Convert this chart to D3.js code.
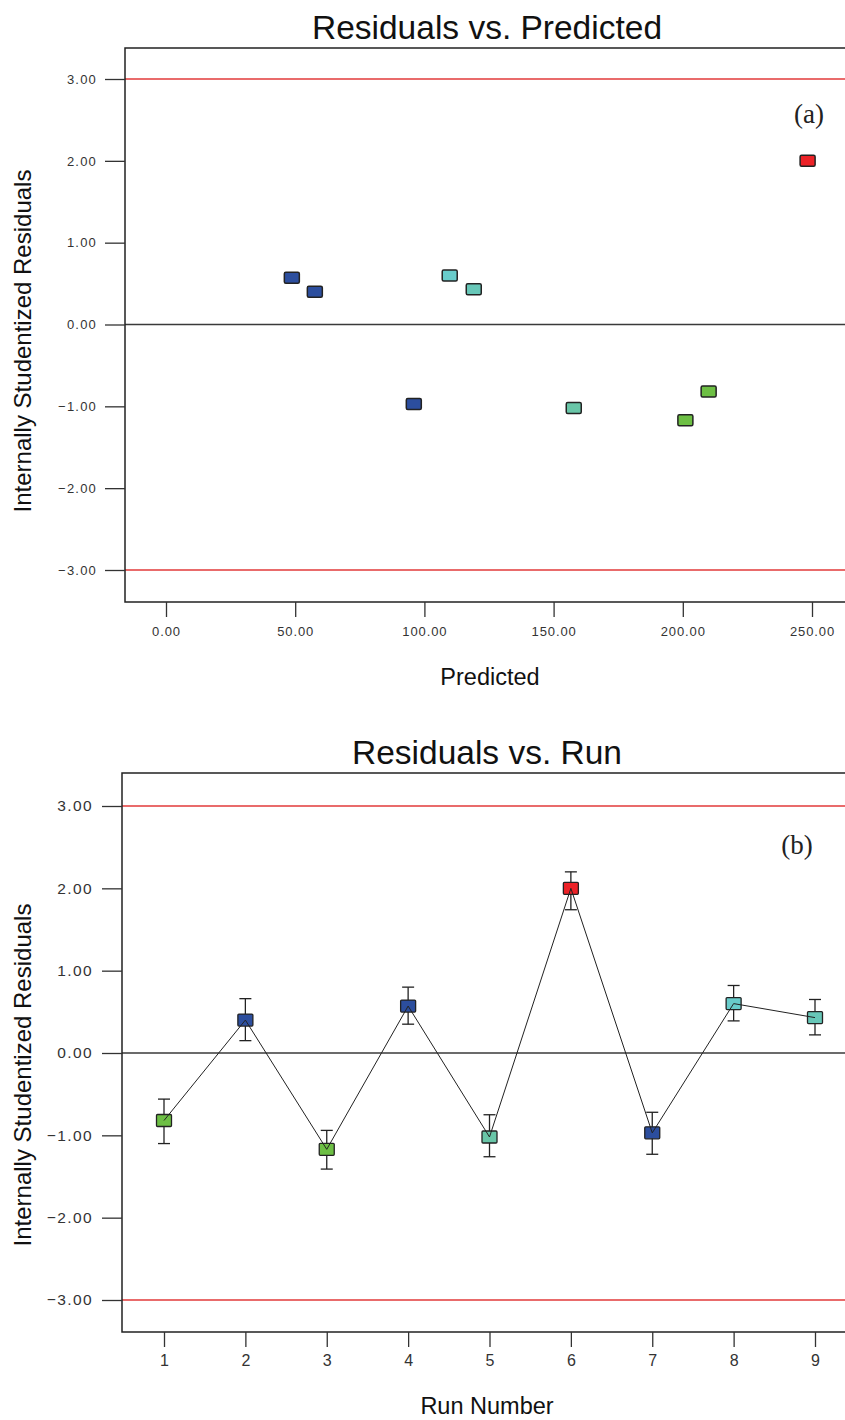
<!DOCTYPE html>
<html>
<head>
<meta charset="utf-8">
<script src="https://cdn.jsdelivr.net/npm/d3@7"></script>
<style>
  html, body { margin: 0; padding: 0; background: #fff; }
  svg { display: block; }
</style>
</head>
<body>
<svg id="chart" width="845" height="1420" font-family="'Liberation Sans', Arial, sans-serif"></svg>
<script>
// ---- data ----
const runs = [1, 2, 3, 4, 5, 6, 7, 8, 9];
const predicted = [210.0, 57.6, 201.0, 48.7, 157.8, 248.3, 95.9, 109.8, 119.1];
const residuals = [-0.82, 0.40, -1.17, 0.57, -1.02, 2.00, -0.97, 0.60, 0.43];
const errHigh = [-0.56, 0.66, -0.94, 0.80, -0.75, 2.20, -0.72, 0.82, 0.65];
const errLow = [-1.10, 0.15, -1.41, 0.35, -1.26, 1.74, -1.23, 0.39, 0.22];
const pointGroup = ["green", "blue", "green", "blue", "teal", "red", "blue", "cyan", "cyanTeal"];
const xTicksPredicted = [0, 50, 100, 150, 200, 250];
const yTicks = [-3, -2, -1, 0, 1, 2, 3];
const limitLines = [-3, 3];

const groupColor = {
  green: "#6dbf44", blue: "#2c4e9e", teal: "#69c6a8",
  red: "#ec2227", cyan: "#68cccb", cyanTeal: "#67c7b8"
};

const svg = d3.select("#chart");
const fmt2 = d3.format(".2f");
const SANS = "'Liberation Sans', Arial, sans-serif";

function drawPanel(cfg) {
  const g = svg.append("g");
  const { x, y, left, right, top, bottom } = cfg;

  // limit lines (red)
  g.selectAll(".limit").data(limitLines).join("line")
    .attr("x1", left).attr("x2", right)
    .attr("y1", d => y(d)).attr("y2", d => y(d))
    .attr("stroke", "#e23a3a").attr("stroke-width", 1.3);

  // zero line
  g.append("line")
    .attr("x1", left).attr("x2", right)
    .attr("y1", y(0)).attr("y2", y(0))
    .attr("stroke", "#3a3a3a").attr("stroke-width", 1.4);

  // frame
  g.append("path")
    .attr("d", `M${right},${top}H${left}V${bottom}H${right}`)
    .attr("fill", "none").attr("stroke", "#222").attr("stroke-width", 1.5);

  // y axis
  const ya = g.append("g").attr("transform", `translate(${left},0)`)
    .call(d3.axisLeft(y).tickValues(yTicks).tickSize(20).tickPadding(cfg.yPad).tickFormat(fmt2));
  ya.select(".domain").remove();
  ya.selectAll(".tick line").attr("stroke", "#333").attr("stroke-width", 1.3);
  ya.selectAll(".tick text").attr("font-size", cfg.yFont).attr("fill", "#333")
    .attr("letter-spacing", cfg.ySpacing)
    .attr("font-family", SANS);

  // x axis
  const xa = g.append("g").attr("transform", `translate(0,${bottom})`)
    .call(d3.axisBottom(x).tickValues(cfg.xTicks).tickSize(15).tickPadding(cfg.xPad).tickFormat(cfg.xFormat));
  xa.select(".domain").remove();
  xa.selectAll(".tick line").attr("stroke", "#333").attr("stroke-width", 1.3);
  xa.selectAll(".tick text").attr("font-size", cfg.xFont).attr("fill", "#333")
    .attr("letter-spacing", cfg.xSpacing)
    .attr("font-family", SANS);

  // title
  g.append("text").attr("x", cfg.titleX).attr("y", cfg.titleY)
    .attr("text-anchor", "middle").attr("font-size", 33.5).attr("fill", "#111")
    .attr("font-family", SANS)
    .text(cfg.title);

  // x label
  g.append("text").attr("x", cfg.xLabelX).attr("y", cfg.xLabelY)
    .attr("text-anchor", "middle").attr("font-size", 23.5).attr("fill", "#111")
    .attr("font-family", SANS)
    .text(cfg.xLabel);

  // y label
  g.append("text")
    .attr("transform", `translate(${cfg.yLabelX},${cfg.yLabelY}) rotate(-90)`)
    .attr("text-anchor", "middle").attr("font-size", 24).attr("fill", "#111")
    .attr("font-family", SANS)
    .text("Internally Studentized Residuals");

  // panel tag
  g.append("text").attr("x", cfg.tagX).attr("y", cfg.tagY)
    .attr("text-anchor", "middle").attr("font-size", 27).attr("fill", "#222")
    .style("font-family", "'Liberation Serif', 'Times New Roman', serif")
    .text(cfg.tag);

  return g;
}

// ---- Panel (a): Residuals vs. Predicted ----
const xA = d3.scaleLinear().domain([0, 250]).range([166, 812]);
const yA = d3.scaleLinear().domain([-3, 3]).range([570, 79]);
const gA = drawPanel({
  x: xA, y: yA, left: 125, right: 850, top: 48, bottom: 602,
  xTicks: xTicksPredicted, xFormat: fmt2, xPad: 10, xFont: 13, xSpacing: 0.9,
  yPad: 8, yFont: 13, ySpacing: 1.2,
  title: "Residuals vs. Predicted", titleX: 487, titleY: 39,
  xLabelX: 490, xLabelY: 685, xLabel: "Predicted",
  yLabelX: 31, yLabelY: 341,
  tag: "(a)", tagX: 809, tagY: 123
});
gA.selectAll(".pt").data(runs).join("rect")
  .attr("x", (d, i) => xA(predicted[i]) - 7.5)
  .attr("y", (d, i) => yA(residuals[i]) - 5.5)
  .attr("width", 15).attr("height", 11).attr("rx", 1.5)
  .attr("fill", (d, i) => groupColor[pointGroup[i]])
  .attr("stroke", "#222").attr("stroke-width", 1.5);

// ---- Panel (b): Residuals vs. Run ----
const xB = d3.scaleLinear().domain([1, 9]).range([164, 815]);
const yB = d3.scaleLinear().domain([-3, 3]).range([1300, 806]);
const gB = drawPanel({
  x: xB, y: yB, left: 122, right: 850, top: 773, bottom: 1332,
  xTicks: runs, xFormat: d3.format("d"), xPad: 8, xFont: 16, xSpacing: 0,
  yPad: 9, yFont: 15.5, ySpacing: 1.4,
  title: "Residuals vs. Run", titleX: 487, titleY: 764,
  xLabelX: 487, xLabelY: 1414, xLabel: "Run Number",
  yLabelX: 31, yLabelY: 1075,
  tag: "(b)", tagX: 797, tagY: 854
});

// error bars
const eb = gB.append("g").attr("stroke", "#222").attr("stroke-width", 1.3);
eb.selectAll(".ev").data(runs).join("line")
  .attr("x1", d => xB(d)).attr("x2", d => xB(d))
  .attr("y1", (d, i) => yB(errHigh[i])).attr("y2", (d, i) => yB(errLow[i]));
eb.selectAll(".ch").data(runs).join("line")
  .attr("x1", d => xB(d) - 6).attr("x2", d => xB(d) + 6)
  .attr("y1", (d, i) => yB(errHigh[i])).attr("y2", (d, i) => yB(errHigh[i]));
eb.selectAll(".cl").data(runs).join("line")
  .attr("x1", d => xB(d) - 6).attr("x2", d => xB(d) + 6)
  .attr("y1", (d, i) => yB(errLow[i])).attr("y2", (d, i) => yB(errLow[i]));

// markers
gB.selectAll(".pt").data(runs).join("rect")
  .attr("x", d => xB(d) - 7.5)
  .attr("y", (d, i) => yB(residuals[i]) - 6)
  .attr("width", 15).attr("height", 12).attr("rx", 1)
  .attr("fill", (d, i) => groupColor[pointGroup[i]])
  .attr("stroke", "#222").attr("stroke-width", 1.3);

// connecting line (drawn over markers, as in the reference)
gB.append("path")
  .datum(runs)
  .attr("d", d3.line().x(d => xB(d)).y((d, i) => yB(residuals[i])))
  .attr("fill", "none").attr("stroke", "#222").attr("stroke-width", 1);
</script>
</body>
</html>
